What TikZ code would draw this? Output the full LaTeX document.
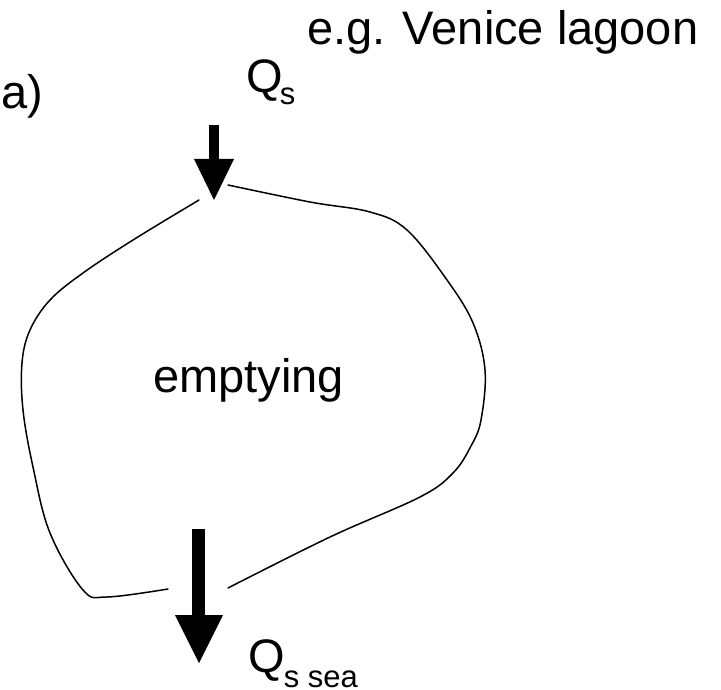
\documentclass[tikz,border=0pt]{standalone}
\usepackage{fontspec}
\setmainfont{Liberation Sans}
\begin{document}
\begin{tikzpicture}[x=1pt,y=-1pt,
  lbl/.style={inner sep=0pt,anchor=base west,font=\fontsize{47}{56}\selectfont},
  outline/.style={line width=1.5pt,line cap=round,line join=round},
  flux/.style={fill=black,draw=none}]
\useasboundingbox (0,0) rectangle (721,690);
\fill[white] (0,0) rectangle (721,690);
% texts
\node[lbl] (ex) at (307,45) {e.g. Venice lagoon};
\node[lbl] (lab) at (1.5,109) {a)};
\node[lbl] (qin) at (246,93) {Q\kern-3pt\raisebox{-12pt}{\fontsize{31}{31}\selectfont s}};
\node[lbl] (qout) at (248,672) {Q\kern-1pt\raisebox{-15pt}{\fontsize{31}{31}\selectfont s sea}};
\node[lbl] (mid) at (153,392) {emptying};
% lagoon outline
\draw[outline] plot[smooth,tension=0.6] coordinates {(199,200) (133,240) (83,273) (50,300) (30,330) (22,363) (23,410) (33,467) (50,533) (83,590) (107,597) (168,589)};
\draw[outline] plot[smooth,tension=0.6] coordinates {(228,185) (310,202) (370,212) (407,230) (447,280) (473,323) (485,370) (481,420) (471,446) (453,473) (420,497) (330,537) (228,588)};
% inflow arrow
\coordinate (t1) at (214,200);
\fill[flux] (209,125) rectangle (219,160);
\fill[flux] (194,159) -- (234,159) -- (t1) -- cycle;
% outflow arrow
\coordinate (t2) at (199,663);
\fill[flux] (192,529) rectangle (205,616);
\fill[flux] (175,615) -- (223,615) -- (t2) -- cycle;
\end{tikzpicture}
\end{document}
